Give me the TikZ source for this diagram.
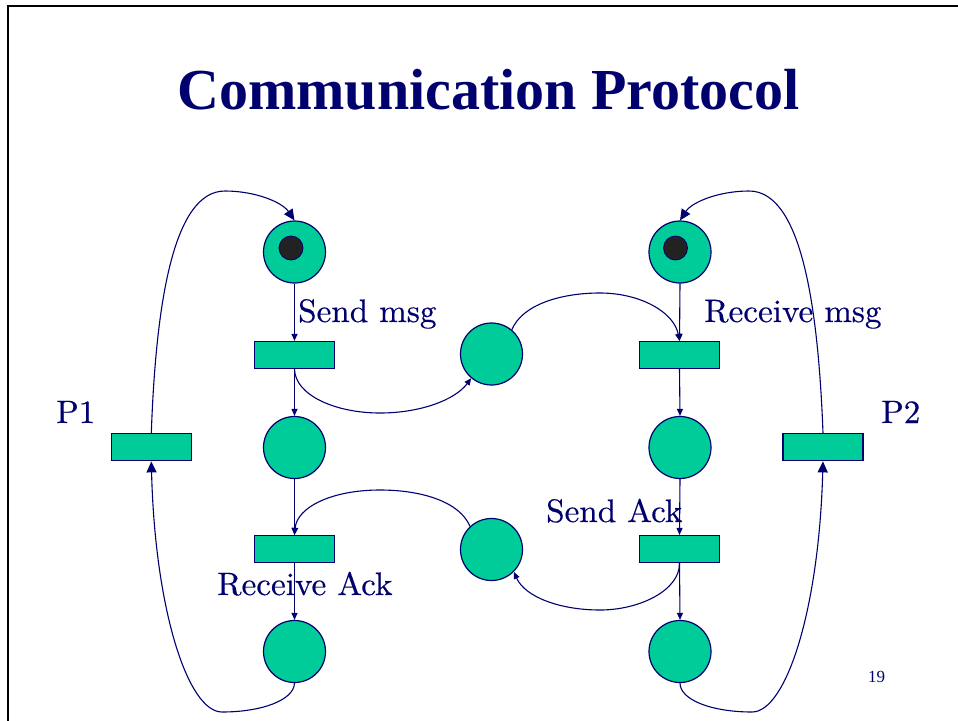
\documentclass[tikz,border=0pt]{standalone}
\usepackage{fontspec}
\usetikzlibrary{arrows.meta}
\newfontfamily\timesfont{Liberation Serif}
\newfontfamily\lblfont{lmroman10-regular}[Extension=.otf, FakeStretch=1.02, FakeBold=0.4]
\definecolor{navy}{RGB}{0,0,110}
\definecolor{pngreen}{RGB}{0,204,153}
\definecolor{tokcol}{RGB}{34,34,34}
\tikzset{
  place/.style={circle, draw=navy, fill=pngreen, line width=1.2pt, minimum size=62pt, inner sep=0pt},
  trans/.style={rectangle, draw=navy, fill=pngreen, line width=1.2pt, minimum width=80pt, minimum height=27pt, inner sep=0pt},
  token/.style={circle, draw=navy, fill=tokcol, line width=0.8pt, minimum size=24pt, inner sep=0pt},
  arc/.style={draw=navy, line width=1.1pt, -{Triangle[length=7pt,width=6pt]}},
  bigarc/.style={draw=navy, line width=1.1pt, -{Triangle[length=11pt,width=10pt]}},
  lbl/.style={text=navy, font=\lblfont\fontsize{32.5}{36}\selectfont, inner sep=0pt, anchor=base west},
}
\begin{document}
\begin{tikzpicture}[x=1pt, y=-1pt]
\useasboundingbox (0,0) rectangle (958,720);
\fill[white] (0,0) rectangle (958,720);
% slide frame
\draw[black, line width=2pt, line join=miter] (8,730) -- (8,5.5) -- (970,5.5);

% title
\node[text=navy, anchor=base, inner sep=0pt, font=\timesfont\bfseries\fontsize{58}{64}\selectfont] (title) at (488.5,109) {Communication Protocol};

% process P1
\node[place] (pa1) at (294.5,252) {};
\node[token] (ka1) at (291,248) {};
\node[trans] (ta1) at (294.5,355) {};
\node[place] (pa2) at (294.5,447.5) {};
\node[trans] (ta2) at (294.5,549) {};
\node[place] (pa3) at (294.5,651.5) {};
\node[trans] (tp1) at (151.3,447.3) {};

% process P2
\node[place] (pb1) at (680,252) {};
\node[token] (kb1) at (675.5,248) {};
\node[trans] (tb1) at (679.5,355) {};
\node[place] (pb2) at (680,447.5) {};
\node[trans] (tb2) at (679.5,549) {};
\node[place] (pb3) at (680,651.5) {};
\node[trans] (tp2) at (823,447.3) {};

% channel places
\node[place] (msg) at (491.5,354) {};
\node[place] (ack) at (491.5,549.5) {};

% straight arcs
\draw[arc] (pa1.south) -- (ta1.north);
\draw[arc] (ta1.south) -- (pa2.north);
\draw[arc] (pa2.south) -- (ta2.north);
\draw[arc] (ta2.south) -- (pa3.north);
\draw[arc] (pb1.south) -- (tb1.north);
\draw[arc] (tb1.south) -- (pb2.north);
\draw[arc] (pb2.south) -- (tb2.north);
\draw[arc] (tb2.south) -- (pb3.north);

% message and acknowledgement arcs
\draw[arc] (ta1.south) .. controls (295,395) and (335,413) .. (380,413)
  .. controls (420,413) and (455,400) .. (msg.230);
\draw[arc] (msg.50) .. controls (522,305) and (560,293) .. (600,293)
  .. controls (640,293) and (674,312) .. (tb1.north);
\draw[arc] (tb2.south) .. controls (680,590) and (640,610) .. (600,610)
  .. controls (560,610) and (525,597) .. (ack.-45);
\draw[arc] (ack.133) .. controls (460,502) and (422,490) .. (380,490)
  .. controls (332,490) and (297,507) .. (ta2.north);

% loops of P1
\draw[bigarc] (tp1.north) .. controls (156,300) and (174,191) .. (225,191)
  .. controls (255,191) and (282,202) .. (pa1.north);
\draw[bigarc] (pa3.south) .. controls (294,700) and (262,712) .. (222,712)
  .. controls (188,712) and (155,610) .. (tp1.south);

% loops of P2
\draw[bigarc] (tp2.north) .. controls (818,300) and (800,191) .. (749,191)
  .. controls (719,191) and (692,202) .. (pb1.north);
\draw[bigarc] (pb3.south) .. controls (680,700) and (712,712) .. (752,712)
  .. controls (786,712) and (819,610) .. (tp2.south);

% labels
\node[lbl] (lsm) at (298,322) {Send msg};
\node[lbl] (lrm) at (704,322) {Receive msg};
\node[lbl] (lp1) at (56,423) {P1};
\node[lbl] (lp2) at (881,423) {P2};
\node[lbl] (lsa) at (546,522) {Send Ack};
\node[lbl] (lra) at (217,595) {Receive Ack};
\node[text=navy, anchor=base west, inner sep=0pt, font=\timesfont\fontsize{17}{20}\selectfont] (num) at (868,682) {19};
\end{tikzpicture}
\end{document}
